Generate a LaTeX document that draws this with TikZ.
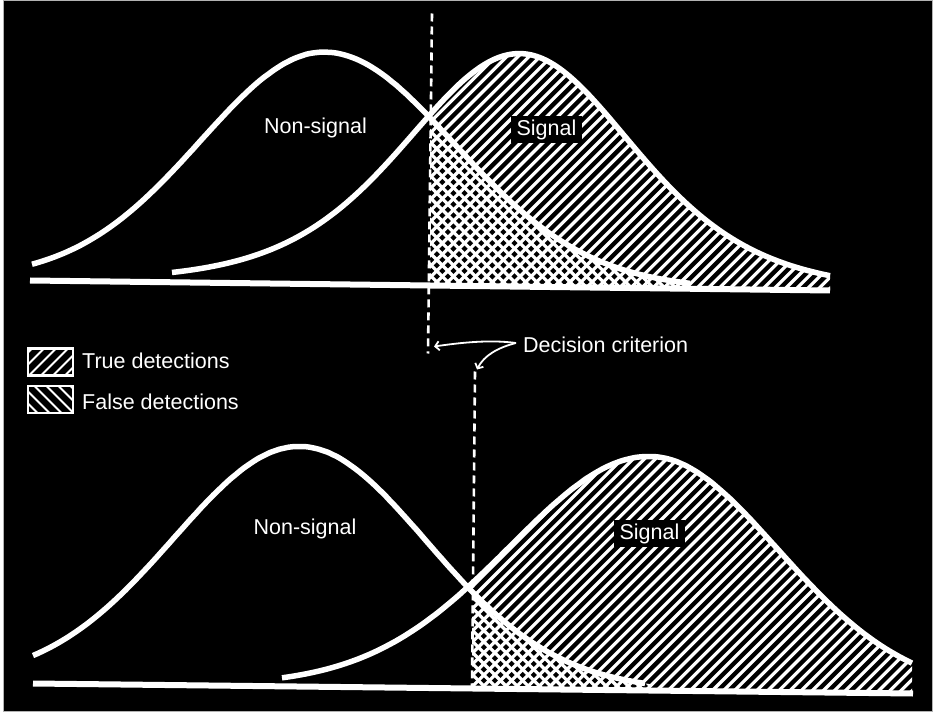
\documentclass[tikz,border=0pt]{standalone}
\usepackage{fontspec}
\setmainfont{Liberation Sans}
\usetikzlibrary{arrows.meta}
\begin{document}
\begin{tikzpicture}[x=1pt,y=-1pt,
  declare function={
    sg(\x,\m,\sl,\sr)=(\x-\m)/((\x<\m)*\sl+(\x>=\m)*\sr);
    bell(\x,\m,\sl,\sr,\n)=exp(-\n*ln(1+sg(\x,\m,\sl,\sr)*sg(\x,\m,\sl,\sr)/(2*\n)));
    bt(\x)=277+(\x-30)/80;
    bb(\x)=680+(\x-33)/88;
  },
  curve/.style={white,line width=5.5pt},
  baseline/.style={white,line width=6pt},
  crit/.style={white,line width=2.6pt,dash pattern=on 8pt off 5pt},
  hl/.style={white,line width=3.2pt},
  lhl/.style={white,line width=2pt},
  lbl/.style={text=white,font=\fontsize{21.5}{25}\selectfont,inner sep=0pt},
  sigbox/.style={lbl,fill=black,inner xsep=6pt,inner ysep=3.5pt,text height=15.5pt,text depth=4.5pt},
  legbox/.style={draw=white,line width=2.5pt,minimum width=45pt,minimum height=27pt,inner sep=0pt},
  pointer/.style={white,line width=1.8pt,-{Straight Barb[length=4pt,width=9pt]}}
]
% background and frame
\fill[white] (0,0) rectangle (935,713);
\fill[black,draw=gray!60,line width=1pt] (3,-3) rectangle (932,708);
\useasboundingbox (0,0) rectangle (935,713);

% ===== top panel =====
\begin{scope}
  \clip plot[domain=430:830,samples=90] (\x,{bt(\x)-233*bell(\x,520,112,110,4)}) -- (830,{bt(830)+2}) -- (430,{bt(430)+2}) -- cycle;
  \foreach \k in {0,...,62} \draw[hl] ({160+11.1*\k},300) -- ++(260,-260);
\end{scope}
\begin{scope}
  \clip plot[domain=430:690,samples=70] (\x,{bt(\x)-232*bell(\x,325,125,130,40)}) -- (690,{bt(690)+2}) -- (430,{bt(430)+2}) -- cycle;
  \foreach \k in {0,...,50} \draw[hl] ({425+11.1*\k},300) -- ++(-260,-260);
\end{scope}
\draw[curve] plot[domain=32:690,samples=140,smooth] (\x,{bt(\x)-232*bell(\x,325,125,130,40)});
\draw[curve] plot[domain=172:830,samples=140,smooth] (\x,{bt(\x)-233*bell(\x,520,112,110,4)});
\draw[baseline] (30,{bt(30)}) -- (830,{bt(830)});
\coordinate (ct1) at (432,10);
\coordinate (ct2) at (428,350);
\draw[crit] (ct1) -- (ct2);
\node[lbl,anchor=base] (ns1) at (315.5,130) {Non-signal};
\node[sigbox] (s1) at (546.5,126.5) {Signal};

% ===== bottom panel =====
\begin{scope}
  \clip plot[domain=472:912,samples=90] (\x,{bb(\x)-234*bell(\x,650,140,128,40)}) -- (912,{bb(912)+2}) -- (472,{bb(472)+2}) -- cycle;
  \foreach \k in {0,...,68} \draw[hl] ({200+11.1*\k},700) -- ++(270,-270);
\end{scope}
\begin{scope}
  \clip plot[domain=472:650,samples=60] (\x,{bb(\x)-240*bell(\x,300,127,127,40)}) -- (650,{bb(650)+2}) -- (472,{bb(472)+2}) -- cycle;
  \foreach \k in {0,...,42} \draw[hl] ({468+11.1*\k},700) -- ++(-270,-270);
\end{scope}
\draw[curve] plot[domain=33:645,samples=140,smooth] (\x,{bb(\x)-240*bell(\x,300,127,127,40)});
\draw[curve] plot[domain=282:912,samples=140,smooth] (\x,{bb(\x)-234*bell(\x,650,140,128,40)});
\draw[baseline] (33,{bb(33)}) -- (913,{bb(913)});
\coordinate (cb1) at (475,368);
\coordinate (cb2) at (472,683);
\draw[crit] (cb1) -- (cb2);
\node[lbl,anchor=base] (ns2) at (305,531) {Non-signal};
\node[sigbox] (s2) at (649.5,530) {Signal};

% ===== decision criterion =====
\node[lbl,anchor=base west] (dc) at (523,349) {Decision criterion};
\coordinate (dcs) at (516,339.5);
\coordinate (a1) at (434,343);
\coordinate (a2) at (477,366);
\draw[pointer] (dcs) .. controls (490,336) and (462,339) .. (a1);
\draw[pointer] (dcs) .. controls (498,344) and (484,352) .. (a2);

% ===== legend =====
\begin{scope}
  \clip (28,345) rectangle (73,372);
  \foreach \k in {0,...,7} \draw[lhl] ({2+12*\k},375) -- ++(32,-32);
\end{scope}
\begin{scope}
  \clip (28,383) rectangle (73,409);
  \foreach \k in {0,...,7} \draw[lhl] ({28+12*\k},412) -- ++(-32,-32);
\end{scope}
\node[legbox] (lt) at (50.5,358.5) {};
\node[legbox] (lf) at (50.5,396) {};
\node[lbl,anchor=base west] (tt) at (82,365) {True detections};
\node[lbl,anchor=base west] (tf) at (82,406) {False detections};
\end{tikzpicture}
\end{document}
